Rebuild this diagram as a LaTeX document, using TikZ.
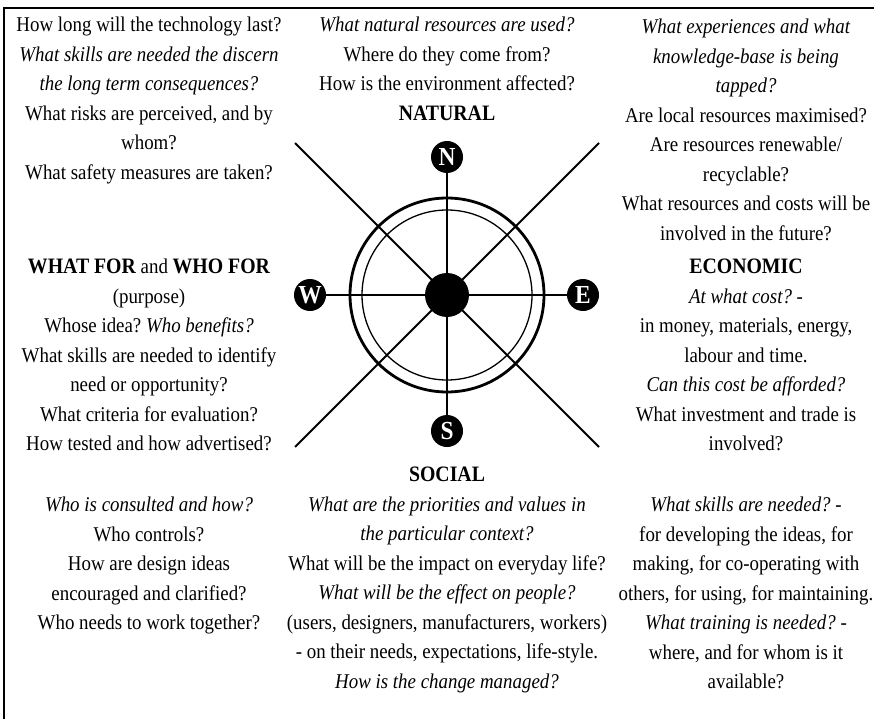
\documentclass[tikz,border=0pt]{standalone}
\usepackage{fontspec}
\setmainfont[FakeStretch=0.9]{Liberation Serif}
\frenchspacing

\newcommand{\hd}[1]{{\fontsize{22}{29.5}\selectfont\bfseries #1}}

\tikzset{
    qblock/.style={align=center, inner sep=0pt, anchor=north,
        font=\fontsize{21}{29.5}\selectfont},
    pointmark/.style={circle, fill=black, text=white, inner sep=0pt,
        minimum size=32pt, font=\fontsize{26}{26}\selectfont\bfseries},
    spoke/.style={line width=2pt}
}

\begin{document}
\begin{tikzpicture}[x=1pt,y=-1pt]

\useasboundingbox (0,0) rectangle (874,719);

% Frame
\draw[line width=1.5pt] (4,719)--(4,8)--(874,8);

% Compass rings
\draw[line width=2.8pt] (447,295) circle (97);
\draw[line width=1.3pt] (447,295) circle (85);

% Compass points
\node[pointmark] (pn) at (447,157) {N};
\node[pointmark] (ps) at (447,431) {S};
\node[pointmark] (pw) at (310,295) {W};
\node[pointmark] (pe) at (583,295) {E};

% Diagonal ends
\coordinate (dnw) at (295,143);
\coordinate (dne) at (599,143);
\coordinate (dsw) at (295,447);
\coordinate (dse) at (599,447);

% Spokes
\draw[spoke] (pn)--(ps);
\draw[spoke] (pw)--(pe);
\draw[spoke] (dnw)--(dse);
\draw[spoke] (dsw)--(dne);

% Hub
\node[circle, fill=black, minimum size=44pt, inner sep=0pt] (hub) at (447,295) {};

% Top row
\node[qblock] (tlq) at (149,17) {How long will the technology last?\\
    \textit{What skills are needed the discern}\\
    \textit{the long term consequences?}\\
    What risks are perceived, and by\\
    whom?\\
    What safety measures are taken?};

\node[qblock] (natq) at (447,17) {\textit{What natural resources are used?}\\
    Where do they come from?\\
    How is the environment affected?\\
    \hd{NATURAL}};

\node[qblock] (trq) at (746,19) {\textit{What experiences and what}\\
    \textit{knowledge-base is being}\\
    \textit{tapped?}\\
    Are local resources maximised?\\
    Are resources renewable/\\
    recyclable?\\
    What resources and costs will be\\
    involved in the future?};

% Middle row
\node[qblock] (purq) at (149,259) {\hd{WHAT FOR} and \hd{WHO FOR}\\
    (purpose)\\
    Whose idea? \textit{Who benefits?}\\
    What skills are needed to identify\\
    need or opportunity?\\
    What criteria for evaluation?\\
    How tested and how advertised?};

\node[qblock] (ecoq) at (746,259) {\hd{ECONOMIC}\\
    \textit{At what cost?} -\\
    in money, materials, energy,\\
    labour and time.\\
    \textit{Can this cost be afforded?}\\
    What investment and trade is\\
    involved?};

% Bottom row
\node[qblock] (socq) at (447,467) {\hd{SOCIAL}\\
    \textit{What are the priorities and values in}\\
    \textit{the particular context?}\\
    What will be the impact on everyday life?\\
    \textit{What will be the effect on people?}\\
    (users, designers, manufacturers, workers)\\
    - on their needs, expectations, life-style.\\
    \textit{How is the change managed?}};

\node[qblock] (blq) at (149,497) {\textit{Who is consulted and how?}\\
    Who controls?\\
    How are design ideas\\
    encouraged and clarified?\\
    Who needs to work together?};

\node[qblock] (brq) at (746,497) {\textit{What skills are needed?} -\\
    for developing the ideas, for\\
    making, for co-operating with\\
    others, for using, for maintaining.\\
    \textit{What training is needed?} -\\
    where, and for whom is it\\
    available?};

\end{tikzpicture}
\end{document}
